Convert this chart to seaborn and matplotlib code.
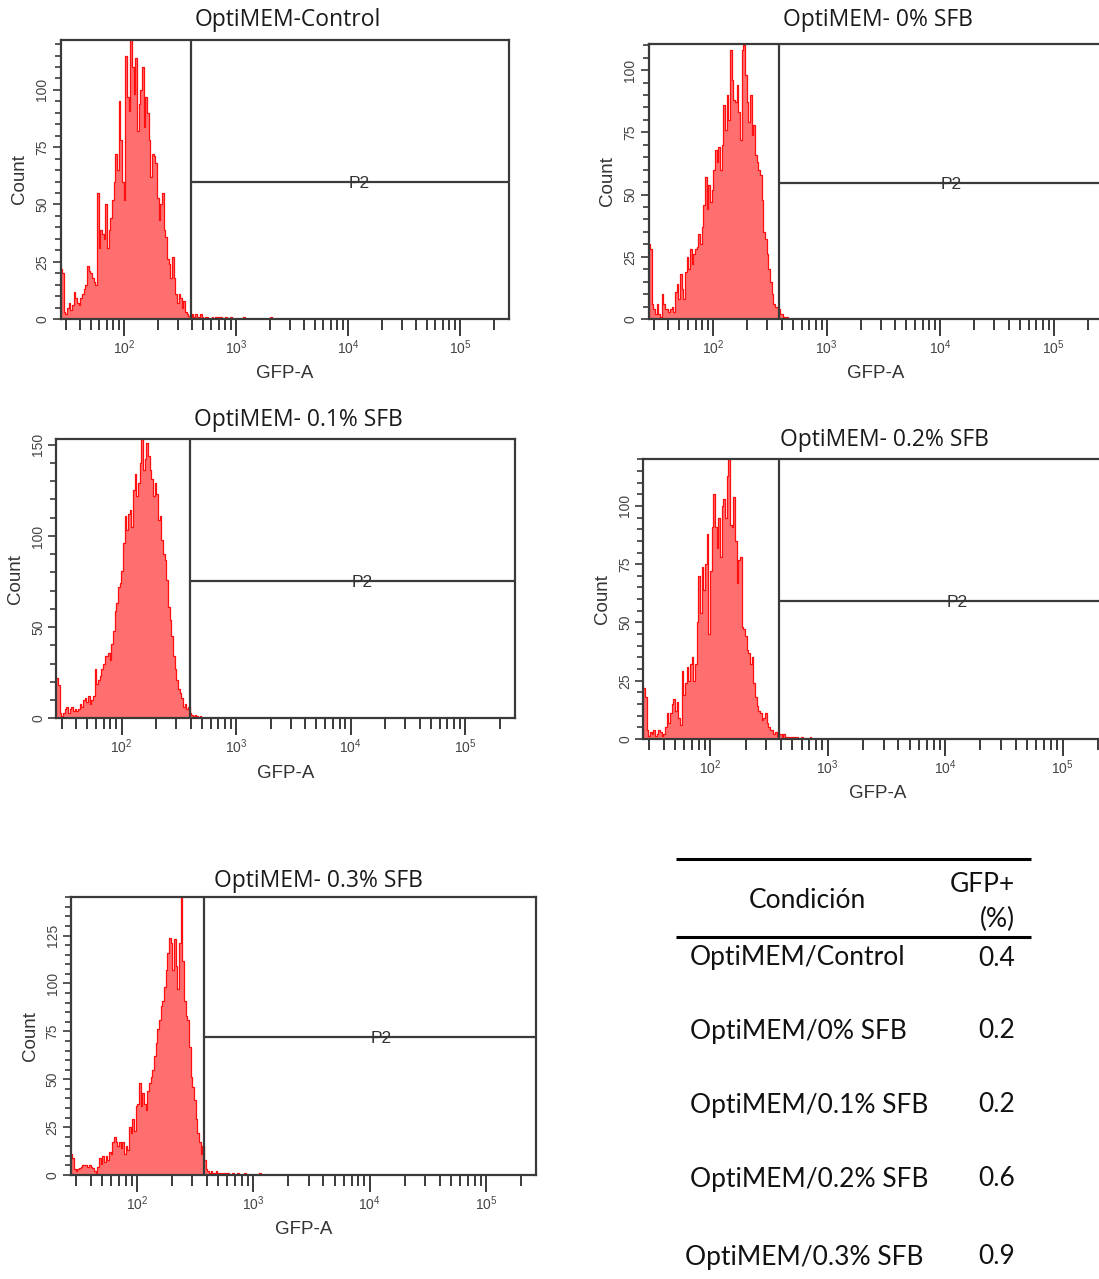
import numpy as np
import pandas as pd
import matplotlib
matplotlib.use("Agg")
import matplotlib.pyplot as plt
import seaborn as sns

# ---------------- data ----------------
titles = ["OptiMEM-Control", "OptiMEM- 0% SFB", "OptiMEM- 0.1% SFB",
          "OptiMEM- 0.2% SFB", "OptiMEM- 0.3% SFB"]

log_start = 1.43                                   # log10(GFP-A) at left edge of each plot
bin_width = [0.01484, 0.01468, 0.01454, 0.01418, 0.01433]   # bin width in log10 units

counts_control = [22, 20, 3, 2, 5, 7, 4, 6, 12, 9, 7, 6, 9, 11, 13, 15, 23, 21, 20, 18,
                  16, 15, 55, 31, 39, 37, 35, 50, 31, 39, 44, 52, 60, 72, 65, 95, 78, 60, 52, 115,
                  97, 91, 122, 110, 98, 114, 82, 94, 100, 110, 84, 97, 90, 78, 62, 72, 71, 68, 53, 43,
                  50, 55, 39, 36, 26, 24, 18, 27, 18, 11, 7, 11, 9, 5, 8, 3, 2, 1.5, 1]
tail_control = [2, 1, 2, 1, 1, 2, 1, 0, 1, 1, 0, 0, 1, 0, 1, 0, 1, 1, 0, 0, 1, 0, 0, 1,
                0, 0, 0, 0, 0, 0, 0, 1, 0, 0, 0, 0, 0, 0, 0, 0, 0, 0, 0, 0, 0, 0, 0, 1]

counts_0 = [30, 28, 6, 4, 2, 6, 2, 1, 10, 6, 4, 4, 3, 4, 5, 3, 11, 14, 8, 18,
            12, 8, 19, 25, 20, 28, 22, 26, 28, 29, 34, 30, 37, 46, 57, 44, 54, 47, 52, 60,
            68, 63, 69, 60, 70, 86, 76, 90, 80, 108, 96, 88, 87, 94, 83, 72, 108, 110, 98, 87,
            79, 90, 74, 78, 66, 63, 60, 58, 48, 35, 32, 26, 20, 15, 10, 6, 5, 5, 4, 2]
tail_0 = [2, 1, 1, 1]

counts_01 = [22, 18, 3, 1, 3, 5, 6, 3, 5, 6, 4, 5, 4, 5, 8, 6, 10, 11, 9, 12,
             8, 10, 12, 27, 19, 21, 23, 27, 30, 34, 34, 36, 32, 41, 48, 59, 63, 72, 74, 81,
             96, 111, 103, 112, 114, 105, 125, 134, 122, 129, 140, 153, 136, 142, 151, 144, 136, 131, 122, 129,
             123, 109, 111, 98, 90, 87, 76, 61, 54, 45, 34, 27, 21, 16, 14, 11, 6, 8, 5, 6, 3]
tail_01 = [2, 1, 2, 1, 0, 1]

counts_02 = [22, 18, 4, 1.5, 3, 2, 4, 1.5, 2, 4, 3, 1.5, 2, 5, 11, 7, 11, 15, 17, 12,
             16, 9, 6, 29, 19, 24, 31, 25, 32, 35, 25, 32, 50, 70, 54, 74, 64, 75, 88, 45,
             72, 91, 105, 91, 82, 95, 78, 100, 103, 95, 113, 120, 92, 91, 104, 85, 67, 77, 78, 48,
             47, 44, 38, 37, 32, 35, 24, 18, 14, 12, 11, 8, 9, 11, 7, 5, 4, 4, 2, 3, 1.5, 2]
tail_02 = [2, 1, 2, 1, 1, 1, 0, 1, 1, 0, 1, 0, 0, 1, 0, 0, 0, 0, 1]

counts_03 = [11, 9, 3, 2, 3, 3.5, 4, 5, 5, 5, 4, 5, 4, 3.5, 2, 1, 4, 9, 6, 10,
             7, 10, 8, 12, 11, 17, 20, 17, 15, 17, 14, 17, 11, 15, 13, 25, 22, 29, 23, 36,
             37, 48, 36, 43, 37, 34, 44, 48, 51, 55, 62, 69, 76, 81, 88, 91, 98, 107, 116, 124,
             121, 107, 123, 109, 97, 121, 145, 112, 91, 83, 81, 67, 51, 46, 39, 29, 22, 17, 11, 15, 8, 3]
tail_03 = [2, 1, 2, 1, 1, 2, 1, 1, 0, 1, 1, 0, 1, 0, 0, 1, 0, 0, 1, 0, 0, 0, 1, 0,
           0, 0, 0, 0, 0, 0, 0, 1]

all_counts = [counts_control + tail_control, counts_0 + tail_0, counts_01 + tail_01,
              counts_02 + tail_02, counts_03 + tail_03]

y_max = [122, 110.5, 153, 120, 145]
y_major_step = [25, 25, 50, 25, 25]
y_minor_step = [5, 5, 10, 5, 5]
gate_x = [2.596, 2.58, 2.599, 2.587, 2.579]      # log10 GFP-A of gate P2
gate_y = [60, 54.6, 75.5, 59.3, 72.2]            # count level of gate P2
gate_name = "P2"

x_major = [2, 3, 4, 5]
x_major_labels = [r"$10^{2}$", r"$10^{3}$", r"$10^{4}$", r"$10^{5}$"]
x_minor_values = [30, 40, 50, 60, 70, 80, 90,
                  200, 300, 400, 500, 600, 700, 800, 900,
                  2000, 3000, 4000, 5000, 6000, 7000, 8000, 9000,
                  20000, 30000, 40000, 50000, 60000, 70000, 80000, 90000, 200000]

table_header = ["Condición", "GFP+", "(%)"]
table_conditions = ["OptiMEM/Control", "OptiMEM/0% SFB", "OptiMEM/0.1% SFB",
                    "OptiMEM/0.2% SFB", "OptiMEM/0.3% SFB"]
table_values = ["0.4", "0.2", "0.2", "0.6", "0.9"]

# ---------------- layout (pixels) ----------------
W, H = 1099, 1279
boxes = [(60.5, 39.5, 508.5, 319.0),
         (648.5, 44.0, 1102.5, 319.0),
         (56.3, 439.3, 514.5, 718.3),
         (643.3, 459.3, 1113.0, 739.0),
         (70.7, 897.3, 535.9, 1175.0)]
title_pos = [(288, 20), (878, 20), (298, 420), (884, 440), (318, 881)]
x_lim = (1.43, 5.43)

FILL = "#ff6f6f"
EDGE = "#ff1010"
FRAME = "#3a3a3a"

sns.set_theme(style="white")
plt.rcParams["font.family"] = ["Liberation Sans", "DejaVu Sans"]
plt.rcParams["mathtext.fontset"] = "custom"
plt.rcParams["mathtext.rm"] = "Liberation Sans"
plt.rcParams["mathtext.it"] = "Liberation Sans"

fig = plt.figure(figsize=(W / 100, H / 100), dpi=100)
fig.patch.set_facecolor("white")

overlay = fig.add_axes([0, 0, 1, 1])
overlay.set_xlim(0, W)
overlay.set_ylim(H, 0)
overlay.axis("off")


def px_axes(l, t, r, b):
    return fig.add_axes([l / W, 1 - b / H, (r - l) / W, (b - t) / H])


for i in range(5):
    ax = px_axes(*boxes[i])
    counts = all_counts[i]
    n = len(counts)
    edges = log_start + bin_width[i] * np.arange(n + 1)
    centers = edges[:-1] + bin_width[i] / 2
    df = pd.DataFrame({"log_gfp": centers, "count": counts})
    sns.histplot(data=df, x="log_gfp", weights="count", bins=[float(e) for e in edges],
                 element="step", fill=True, color=FILL, edgecolor=EDGE,
                 linewidth=0.9, alpha=1.0, ax=ax, zorder=2)
    ax.set_xlim(*x_lim)
    ax.set_ylim(0, y_max[i])

    # gate P2
    gx, gy = gate_x[i], gate_y[i]
    ax.plot([gx, gx], [0, y_max[i]], color=FRAME, lw=1.6, zorder=3)
    ax.plot([gx, x_lim[1]], [gy, gy], color=FRAME, lw=1.6, zorder=3)
    ax.text(4.1, gy - y_max[i] * 0.006, gate_name, ha="center", va="center", fontsize=12.5,
            color="#333333", zorder=4)

    # axes styling
    for s in ax.spines.values():
        s.set_color(FRAME)
        s.set_linewidth(1.6)
    ax.set_xticks(x_major)
    ax.set_xticklabels(x_major_labels, fontsize=10, color="#444444")
    ax.set_xticks(np.log10(x_minor_values), minor=True)
    ax.tick_params(axis="x", which="major", direction="out", length=12, width=1.4,
                   color=FRAME, pad=2, bottom=True)
    ax.tick_params(axis="x", which="minor", direction="out", length=8, width=1.4,
                   color=FRAME, bottom=True)
    yt = np.arange(0, y_max[i] + 0.1, y_major_step[i])
    ax.set_yticks(yt)
    ax.set_yticklabels([str(int(v)) for v in yt], rotation=90, va="center",
                       fontsize=10, color="#444444")
    ax.set_yticks(np.arange(0, y_max[i] + 0.1, y_minor_step[i]), minor=True)
    ax.tick_params(axis="y", which="major", direction="out", length=6, width=1.2,
                   color=FRAME, pad=2, left=True)
    ax.tick_params(axis="y", which="minor", direction="out", length=4, width=1.2,
                   color=FRAME, left=True)
    ax.set_xlabel("GFP-A", fontsize=13.5, color="#333333", labelpad=6)
    ax.set_ylabel("Count", fontsize=13.5, color="#333333", labelpad=5)
    ax.grid(False)

    overlay.text(title_pos[i][0], title_pos[i][1], titles[i], ha="center", va="center",
                 fontsize=16.5, color="#1a1a1a", family=["Open Sans", "DejaVu Sans"])

# ---------------- table ----------------
TF = ["Lato", "DejaVu Sans"]
overlay.plot([676, 1031], [859, 859], color="black", lw=2.2, solid_capstyle="butt")
overlay.plot([676, 1031], [937, 937], color="black", lw=2.2, solid_capstyle="butt")
overlay.text(807, 900, table_header[0], ha="center", va="center", fontsize=19, family=TF,
             color="#111111")
overlay.text(1015, 884, table_header[1], ha="right", va="center", fontsize=19, family=TF,
             color="#111111")
overlay.text(1015, 919, table_header[2], ha="right", va="center", fontsize=19, family=TF,
             color="#111111")
row_y = [958, 1031, 1105, 1179, 1257]
row_x = [690, 690, 690, 690, 685]
for cond, val, yy, xx in zip(table_conditions, table_values, row_y, row_x):
    overlay.text(xx, yy, cond, ha="left", va="center", fontsize=19, family=TF, color="#111111")
    overlay.text(1015, yy, val, ha="right", va="center", fontsize=19, family=TF, color="#111111")

fig.savefig("out.png", dpi=100, facecolor="white")
